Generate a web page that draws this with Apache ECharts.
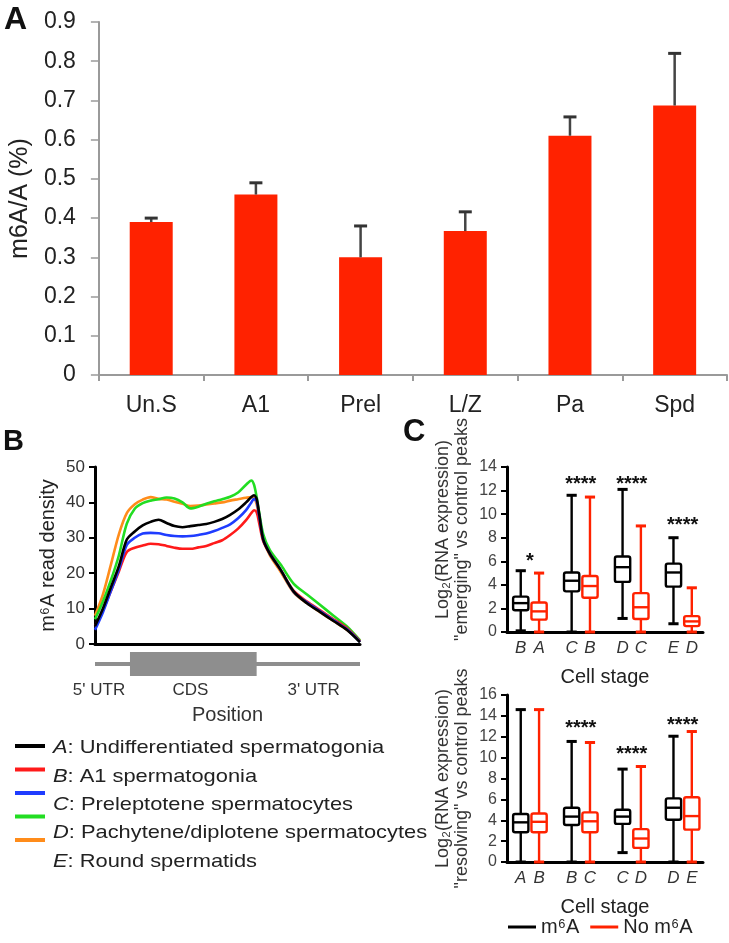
<!DOCTYPE html>
<html><head><meta charset="utf-8">
<script src="https://cdn.jsdelivr.net/npm/echarts@6/dist/echarts.min.js"></script>
<style>html,body{margin:0;padding:0;background:#fff}#c{width:729px;height:943px}</style>
</head><body><div id="c"></div>
<script>
const FONT = '"Liberation Sans", Arial, Helvetica, sans-serif';

// ---------- Panel A data ----------
const stageCategories = ['Un.S', 'A1', 'Prel', 'L/Z', 'Pa', 'Spd'];
const m6aLevel = [0.39, 0.46, 0.30, 0.367, 0.61, 0.687];
const m6aErrorTop = [0.40, 0.49, 0.38, 0.416, 0.658, 0.82];

// ---------- Panel B data ----------
const positionPct = [0, 3, 6, 9, 12, 15, 18, 21, 24, 27, 30, 33, 36, 39, 42, 45, 48, 51, 54, 57, 59, 60, 61, 62, 63.5, 66, 70, 75, 80, 85, 90, 95, 100];
const densityA = [5, 10, 16, 22, 29.5, 31.8, 33.5, 34.5, 35.1, 34.2, 33.3, 33, 33.3, 33.6, 33.9, 34.5, 35.3, 36.5, 38, 40, 41.5, 42, 41, 36.5, 29.5, 25.5, 21, 14.8, 11.5, 9, 6.5, 4, 0.5];
const densityB = [5, 9.5, 15, 20.5, 26, 27.2, 27.8, 28.3, 28.2, 27.7, 27.2, 26.9, 26.9, 27.3, 27.7, 28.5, 29.3, 30.8, 32.6, 35, 37, 37.8, 37.2, 34, 29, 25.5, 21, 15, 12, 9.5, 7, 4.5, 0.8];
const densityC = [4, 9, 15, 21, 28, 30, 31.2, 31.4, 31.3, 30.8, 30.5, 30.4, 30.5, 30.8, 31.2, 31.9, 32.8, 33.8, 35.5, 37.8, 40, 41, 40.3, 36, 29.5, 25.5, 21, 14.7, 11.7, 9.2, 6.7, 4.2, 0.6];
const densityD = [7, 12, 18, 25, 34, 38.2, 39.8, 40.5, 40.9, 41.4, 41.1, 40, 38.3, 38.8, 39.6, 40.3, 40.9, 41.6, 42.8, 45, 46.2, 45, 41.5, 37, 31, 26.5, 22.5, 17, 14, 11, 8, 5, 1];
const densityE = [8, 14, 22.4, 31, 37, 39.5, 40.8, 41.5, 41, 40.8, 40.2, 39.6, 39, 39.1, 39.4, 39.7, 40, 40.5, 40.9, 41.3, 41.5, 41.3, 39.5, 35.5, 29.5, 25, 20.5, 14.5, 11.5, 9, 6.5, 4, 0.8];
const lineStageNames = ['A: Undifferentiated spermatogonia', 'B: A1 spermatogonia', 'C: Preleptotene spermatocytes', 'D: Pachytene/diplotene spermatocytes', 'E: Round spermatids'];
const legendBLetters = ['A', 'B', 'C', 'D', 'E'];
const legendBDescriptions = ['Undifferentiated spermatogonia', 'A1 spermatogonia', 'Preleptotene spermatocytes', 'Pachytene/diplotene spermatocytes', 'Round spermatids'];
const geneRegionStart = [0, 13.2];
const geneRegionEnd = [100, 61];
const geneRegionKind = ['UTR', 'CDS'];
const geneLabelPos = [1.5, 36, 82.5];
const geneLabelText = ["5' UTR", 'CDS', "3' UTR"];

// ---------- Panel C data ----------  [min, q1, median, q3, max]
const emergingM6A = [[0.1, 1.85, 2.45, 3.0, 5.2], [0, 3.45, 4.35, 5.05, 11.6], [1.15, 4.25, 5.5, 6.4, 12.1], [0.7, 3.85, 5.05, 5.8, 8.0]];
const emergingNoM6A = [[0, 1.05, 1.75, 2.5, 5.0], [0, 2.9, 3.9, 4.75, 11.45], [0, 1.1, 2.1, 3.3, 9.0], [0, 0.5, 0.9, 1.35, 3.75]];
const emergingM6ALabels = ['B', 'C', 'D', 'E'];
const emergingNoLabels = ['A', 'B', 'C', 'D'];
const emergingSig = ['*', '****', '****', '****'];
const emergingSigY = [6.4, 12.9, 12.9, 9.5];

const resolvingM6A = [[0, 2.85, 3.8, 4.6, 14.6], [0, 3.55, 4.35, 5.2, 11.55], [0.9, 3.65, 4.35, 5.0, 8.9], [0, 4.05, 5.2, 6.1, 12.05]];
const resolvingNoM6A = [[0, 2.85, 3.85, 4.65, 14.6], [0, 2.85, 3.9, 4.75, 11.45], [0, 1.35, 2.25, 3.15, 9.15], [0, 3.1, 4.4, 6.2, 12.5]];
const resolvingM6ALabels = ['A', 'B', 'C', 'D'];
const resolvingNoLabels = ['B', 'C', 'D', 'E'];
const resolvingSig = ['', '****', '****', '****'];
const resolvingSigY = [null, 13.3, 10.8, 13.6];

const pairOffset = 0.18;
const RED = '#ff2200';
const LINE_COLORS = ['#000000', '#ff1a1a', '#1f3cff', '#22dd22', '#ff8c1a'];

function pairLabelValues(n) {
  const v = [];
  for (let i = 0; i < n; i++) { v.push(i - pairOffset); v.push(i + pairOffset); }
  return v;
}
function pairLabelTexts(a, b) {
  const t = [];
  for (let i = 0; i < a.length; i++) { t.push(a[i]); t.push(b[i]); }
  return t;
}
function lookupFormatter(values, texts) {
  return function (v) {
    for (let k = 0; k < values.length; k++) if (Math.abs(values[k] - v) < 1e-6) return texts[k];
    return '';
  };
}

function makeBoxRenderer(offset, color) {
  return function (params, api) {
    const x = api.value(0) + offset;
    const pMin = api.coord([x, api.value(1)]);
    const pQ1 = api.coord([x, api.value(2)]);
    const pMed = api.coord([x, api.value(3)]);
    const pQ3 = api.coord([x, api.value(4)]);
    const pMax = api.coord([x, api.value(5)]);
    const halfBox = api.size([0.3, 0])[0] / 2;
    const halfCap = api.size([0.2, 0])[0] / 2;
    const st = { stroke: color, lineWidth: 2.4, fill: null };
    return {
      type: 'group', children: [
        { type: 'line', shape: { x1: pMax[0], y1: pMax[1], x2: pQ3[0], y2: pQ3[1] }, style: st },
        { type: 'line', shape: { x1: pQ1[0], y1: pQ1[1], x2: pMin[0], y2: pMin[1] }, style: st },
        { type: 'line', shape: { x1: pMax[0] - halfCap, y1: pMax[1], x2: pMax[0] + halfCap, y2: pMax[1] }, style: { stroke: color, lineWidth: 3 } },
        { type: 'line', shape: { x1: pMin[0] - halfCap, y1: pMin[1], x2: pMin[0] + halfCap, y2: pMin[1] }, style: { stroke: color, lineWidth: 3 } },
        { type: 'rect', shape: { x: pQ3[0] - halfBox, y: pQ3[1], width: halfBox * 2, height: pQ1[1] - pQ3[1], r: 2 }, style: { stroke: color, lineWidth: 2.4, fill: '#fff' } },
        { type: 'line', shape: { x1: pMed[0] - halfBox, y1: pMed[1], x2: pMed[0] + halfBox, y2: pMed[1] }, style: { stroke: color, lineWidth: 2.4 } }
      ]
    };
  };
}
function makeSigRenderer(texts) {
  return function (params, api) {
    const p = api.coord([api.value(0), api.value(1)]);
    return { type: 'text', x: p[0], y: p[1] + 5, style: { text: texts[api.value(0)], fontSize: 20, fontWeight: 'bold', fontFamily: FONT, fill: '#111', align: 'center', verticalAlign: 'middle' } };
  };
}

const cTopLabelVals = pairLabelValues(4);
const cTopLabelTxt = pairLabelTexts(emergingM6ALabels, emergingNoLabels);
const cBotLabelVals = pairLabelValues(4);
const cBotLabelTxt = pairLabelTexts(resolvingM6ALabels, resolvingNoLabels);

const densities = [densityA, densityB, densityC, densityD, densityE];
const drawOrder = [4, 3, 1, 2, 0];

const chart = echarts.init(document.getElementById('c'), null, { renderer: 'canvas' });

const option = {
  animation: false,
  backgroundColor: '#fff',
  textStyle: { fontFamily: FONT },
  grid: [
    { left: 95, top: 22, width: 632, height: 353 },
    { left: 95, top: 467, width: 265, height: 177 },
    { left: 95, top: 652, width: 265, height: 24 },
    { left: 507, top: 467, width: 196, height: 165 },
    { left: 507, top: 695, width: 196, height: 167 }
  ],
  xAxis: [
    { gridIndex: 0, type: 'category', data: stageCategories,
      axisLine: { lineStyle: { color: '#9a9a9a', width: 2 } },
      axisTick: { show: true, length: 6, lineStyle: { color: '#9a9a9a', width: 2 } },
      axisLabel: { fontSize: 23, color: '#222', margin: 19 } },
    { gridIndex: 1, type: 'value', min: 0, max: 100,
      axisLine: { onZero: false, lineStyle: { color: '#000', width: 3 } },
      axisTick: { show: false }, axisLabel: { show: false }, splitLine: { show: false } },
    { gridIndex: 2, type: 'value', min: 0, max: 100,
      axisLine: { show: false }, axisTick: { show: false }, splitLine: { show: false },
      axisLabel: { customValues: geneLabelPos, formatter: lookupFormatter(geneLabelPos, geneLabelText), fontSize: 17, color: '#333', margin: 6 },
      name: 'Position', nameLocation: 'middle', nameGap: 29, nameTextStyle: { fontSize: 20, color: '#333' } },
    { gridIndex: 3, type: 'value', min: -0.45, max: 3.4,
      axisLine: { onZero: false, lineStyle: { color: '#000', width: 3 } },
      axisTick: { show: false }, splitLine: { show: false },
      axisLabel: { customValues: cTopLabelVals, formatter: lookupFormatter(cTopLabelVals, cTopLabelTxt), fontSize: 17, fontStyle: 'italic', color: '#333', margin: 8 },
      name: 'Cell stage', nameLocation: 'middle', nameGap: 35, nameTextStyle: { fontSize: 20, color: '#222' } },
    { gridIndex: 4, type: 'value', min: -0.45, max: 3.4,
      axisLine: { onZero: false, lineStyle: { color: '#000', width: 3 } },
      axisTick: { show: false }, splitLine: { show: false },
      axisLabel: { customValues: cBotLabelVals, formatter: lookupFormatter(cBotLabelVals, cBotLabelTxt), fontSize: 17, fontStyle: 'italic', color: '#333', margin: 8 },
      name: 'Cell stage', nameLocation: 'middle', nameGap: 35, nameTextStyle: { fontSize: 20, color: '#222' } }
  ],
  yAxis: [
    { gridIndex: 0, type: 'value', min: 0, max: 0.9, interval: 0.1,
      axisLine: { show: true, onZero: false, lineStyle: { color: '#9a9a9a', width: 2 } },
      axisTick: { show: true, length: 8, lineStyle: { color: '#9a9a9a', width: 1.5 } },
      splitLine: { show: false },
      axisLabel: { fontSize: 23, color: '#222', margin: 23 },
      name: 'm6A/A (%)', nameLocation: 'middle', nameGap: 58, nameTextStyle: { fontSize: 25, color: '#222' } },
    { gridIndex: 1, type: 'value', min: 0, max: 50, interval: 10,
      axisLine: { show: true, onZero: false, lineStyle: { color: '#000', width: 3 } },
      axisTick: { show: true, length: 6, lineStyle: { color: '#000', width: 2 } },
      splitLine: { show: false },
      axisLabel: { fontSize: 17, color: '#333', margin: 10 },
      name: 'm\u2076A read density', nameLocation: 'middle', nameGap: 37, nameTextStyle: { fontSize: 20, color: '#222' } },
    { gridIndex: 2, type: 'value', min: 0, max: 1, show: false },
    { gridIndex: 3, type: 'value', min: 0, max: 14, interval: 2,
      axisLine: { show: true, onZero: false, lineStyle: { color: '#000', width: 3 } },
      axisTick: { show: true, length: 6, lineStyle: { color: '#000', width: 2 } },
      splitLine: { show: false },
      axisLabel: { fontSize: 16, color: '#444', margin: 10 },
      name: 'Log\u2082(RNA expression)\n"emerging" vs control peaks', nameLocation: 'middle', nameGap: 35,
      nameTextStyle: { fontSize: 18, lineHeight: 19, color: '#333', padding: [0, 0, 0, 40] } },
    { gridIndex: 4, type: 'value', min: 0, max: 16, interval: 2,
      axisLine: { show: true, onZero: false, lineStyle: { color: '#000', width: 3 } },
      axisTick: { show: true, length: 6, lineStyle: { color: '#000', width: 2 } },
      splitLine: { show: false },
      axisLabel: { fontSize: 16, color: '#444', margin: 10 },
      name: 'Log\u2082(RNA expression)\n"resolving" vs control peaks', nameLocation: 'middle', nameGap: 35,
      nameTextStyle: { fontSize: 18, lineHeight: 19, color: '#333' } }
  ],
  legend: [
    { data: lineStageNames, orient: 'vertical', left: 15, top: 744, padding: 0,
      icon: 'rect', itemWidth: 30, itemHeight: 4, itemGap: 19.5,
      formatter: function () { return ''; }, textStyle: { fontSize: 1 }, selectedMode: false },
    { data: ['m\u2076A', 'No m\u2076A'], orient: 'horizontal', left: 508, top: 917, padding: 0,
      icon: 'rect', itemWidth: 28, itemHeight: 3, itemGap: 11,
      textStyle: { fontSize: 20, color: '#222' }, selectedMode: false }
  ],
  graphic: [
    { type: 'text', x: 4, y: 4, style: { text: 'A', fontSize: 32, fontWeight: 'bold', fontFamily: FONT, fill: '#111' } },
    { type: 'text', x: 3, y: 427, style: { text: 'B', fontSize: 29, fontWeight: 'bold', fontFamily: FONT, fill: '#111' } },
    { type: 'text', x: 403, y: 417, style: { text: 'C', fontSize: 31, fontWeight: 'bold', fontFamily: FONT, fill: '#111' } }
  ].concat(legendBLetters.map(function (letter, i) {
    const ys = [748, 777, 805, 833, 862];
    return { type: 'text', x: 53, y: ys[i], scaleX: 1.15, style: {
      text: '{i|' + letter + '}: ' + legendBDescriptions[i], fontSize: 19, fontFamily: FONT, fill: '#222', verticalAlign: 'middle',
      rich: { i: { fontStyle: 'italic', fontSize: 19, fontFamily: FONT, fill: '#222' } } } };
  })),
  series: [
    { type: 'bar', name: 'm6A/A', xAxisIndex: 0, yAxisIndex: 0, data: m6aLevel, barWidth: 43, itemStyle: { color: RED } },
    { type: 'custom', name: 'error', xAxisIndex: 0, yAxisIndex: 0, z: 5,
      data: stageCategories.map(function (c, i) { return [i, m6aLevel[i], m6aErrorTop[i]]; }),
      encode: { x: 0, y: [1, 2] },
      renderItem: function (params, api) {
        const pBase = api.coord([api.value(0), api.value(1)]);
        const pTop = api.coord([api.value(0), api.value(2)]);
        return { type: 'group', children: [
          { type: 'line', shape: { x1: pBase[0], y1: pBase[1], x2: pTop[0], y2: pTop[1] }, style: { stroke: '#444', lineWidth: 2.5 } },
          { type: 'line', shape: { x1: pTop[0] - 6.5, y1: pTop[1], x2: pTop[0] + 6.5, y2: pTop[1] }, style: { stroke: '#333', lineWidth: 3 } }
        ] };
      } }
  ].concat(drawOrder.map(function (k) {
    return { type: 'line', name: lineStageNames[k], xAxisIndex: 1, yAxisIndex: 1, color: LINE_COLORS[k],
      data: positionPct.map(function (p, i) { return [p, densities[k][i]]; }),
      showSymbol: false, smooth: 0.3, lineStyle: { width: 2.6, color: LINE_COLORS[k] } };
  })).concat([
    { type: 'custom', name: 'gene', xAxisIndex: 2, yAxisIndex: 2,
      data: geneRegionStart.map(function (s, i) { return [s, geneRegionEnd[i]]; }),
      encode: { x: [0, 1] },
      renderItem: function (params, api) {
        const p0 = api.coord([api.value(0), 0.5]);
        const p1 = api.coord([api.value(1), 0.5]);
        const h = geneRegionKind[params.dataIndex] === 'CDS' ? api.size([0, 1])[1] : 4;
        return { type: 'rect', shape: { x: p0[0], y: p0[1] - h / 2, width: p1[0] - p0[0], height: h }, style: { fill: '#8e8e8e' } };
      } },
    { type: 'custom', name: 'm\u2076A', xAxisIndex: 3, yAxisIndex: 3, itemStyle: { color: '#000' },
      data: emergingM6A.map(function (b, i) { return [i].concat(b); }), encode: { x: 0, y: [1, 5] },
      renderItem: makeBoxRenderer(-pairOffset, '#000') },
    { type: 'custom', name: 'No m\u2076A', xAxisIndex: 3, yAxisIndex: 3, itemStyle: { color: RED },
      data: emergingNoM6A.map(function (b, i) { return [i].concat(b); }), encode: { x: 0, y: [1, 5] },
      renderItem: makeBoxRenderer(pairOffset, RED) },
    { type: 'custom', name: 'sigTop', xAxisIndex: 3, yAxisIndex: 3, z: 10,
      data: emergingSigY.map(function (y, i) { return [i, y]; }), encode: { x: 0, y: 1 },
      renderItem: makeSigRenderer(emergingSig) },
    { type: 'custom', name: 'm\u2076A', xAxisIndex: 4, yAxisIndex: 4, itemStyle: { color: '#000' },
      data: resolvingM6A.map(function (b, i) { return [i].concat(b); }), encode: { x: 0, y: [1, 5] },
      renderItem: makeBoxRenderer(-pairOffset, '#000') },
    { type: 'custom', name: 'No m\u2076A', xAxisIndex: 4, yAxisIndex: 4, itemStyle: { color: RED },
      data: resolvingNoM6A.map(function (b, i) { return [i].concat(b); }), encode: { x: 0, y: [1, 5] },
      renderItem: makeBoxRenderer(pairOffset, RED) },
    { type: 'custom', name: 'sigBottom', xAxisIndex: 4, yAxisIndex: 4, z: 10,
      data: resolvingSigY.map(function (y, i) { return [i, y]; }).filter(function (d) { return d[1] !== null; }),
      encode: { x: 0, y: 1 },
      renderItem: makeSigRenderer(resolvingSig) }
  ])
};
chart.setOption(option);
</script>
</body></html>
